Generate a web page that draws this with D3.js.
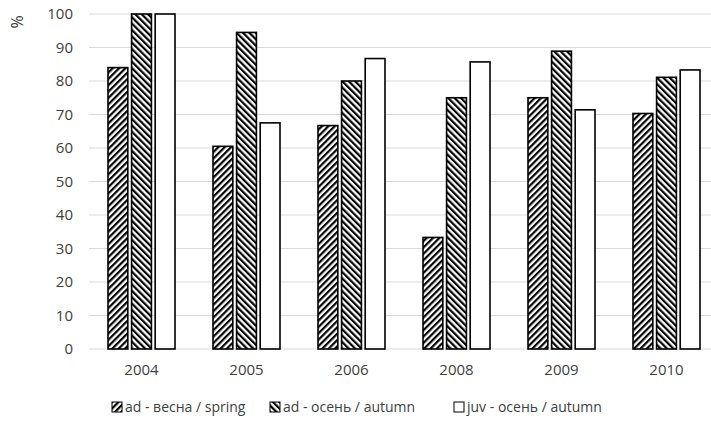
<!DOCTYPE html>
<html>
<head>
<meta charset="utf-8">
<script src="https://cdn.jsdelivr.net/npm/d3@7"></script>
<style>
  body { margin: 0; background: #fff; }
  svg { display: block; font-family: "Open Sans", "Noto Sans", sans-serif; }
</style>
</head>
<body>
<svg id="chart" width="711" height="427"></svg>
<script>
const years = ["2004", "2005", "2006", "2008", "2009", "2010"];
const adSpring = [84, 60.5, 66.7, 33.3, 75, 70.3];
const adAutumn = [100, 94.5, 80, 75, 88.9, 81.1];
const juvAutumn = [100, 67.5, 86.7, 85.7, 71.4, 83.3];
const seriesNames = ["ad - весна / spring", "ad - осень / autumn", "juv - осень / autumn"];
const yTicks = [0, 10, 20, 30, 40, 50, 60, 70, 80, 90, 100];

const svg = d3.select("#chart");
const margin = { top: 14, left: 89 };
const width = 630;
const height = 335;

// patterns for the hatched bars
const defs = svg.append("defs");
function hatch(id, angle) {
    const p = defs.append("pattern")
        .attr("id", id)
        .attr("patternUnits", "userSpaceOnUse")
        .attr("width", 4.5)
        .attr("height", 4.5)
        .attr("patternTransform", "rotate(" + angle + ")");
    p.append("rect").attr("width", 4.5).attr("height", 4.5).attr("fill", "#fff");
    p.append("rect").attr("width", 2.2).attr("height", 4.5).attr("fill", "#000");
}
hatch("up", 45);
hatch("down", -45);
const fills = ["url(#up)", "url(#down)", "#fff"];

const g = svg.append("g")
    .attr("transform", "translate(" + margin.left + "," + margin.top + ")");

const x = d3.scaleBand().domain(years).range([0, width]);
const x1 = d3.scaleBand().domain([0, 1, 2]).range([19, 105 - 19]).paddingInner(0.16);
const y = d3.scaleLinear().domain([0, 100]).range([height, 0]);

// grid
g.selectAll(".grid")
    .data(yTicks)
    .enter().append("line")
    .attr("x1", 0)
    .attr("x2", width)
    .attr("y1", d => y(d))
    .attr("y2", d => y(d))
    .attr("stroke", "#d9d9d9")
    .attr("stroke-width", 1);

// y labels
g.selectAll(".ylab")
    .data(yTicks)
    .enter().append("text")
    .attr("x", -16)
    .attr("y", d => y(d))
    .attr("dy", "0.35em")
    .attr("text-anchor", "end")
    .attr("fill", "#404040")
    .style("font-size", "15px")
    .text(d => d);

// x labels
g.selectAll(".xlab")
    .data(years)
    .enter().append("text")
    .attr("x", d => x(d) + x.bandwidth() / 2)
    .attr("y", height + 26)
    .attr("text-anchor", "middle")
    .attr("fill", "#404040")
    .style("font-size", "15px")
    .text(d => d);

const series = [adSpring, adAutumn, juvAutumn];
series.forEach(function(vals, si) {
    g.selectAll(".bar" + si)
        .data(vals)
        .enter().append("rect")
        .attr("x", (d, i) => x(years[i]) + x1(si))
        .attr("y", d => y(d))
        .attr("width", x1.bandwidth())
        .attr("height", d => height - y(d))
        .attr("fill", fills[si])
        .attr("stroke", "#000")
        .attr("stroke-width", 1.6);
});

// % label
svg.append("text")
    .attr("transform", "translate(23,22) rotate(-90)")
    .attr("text-anchor", "middle")
    .attr("fill", "#404040")
    .style("font-size", "16px")
    .text("%");

// legend
const legendX = [112, 270, 454];
const lg = svg.selectAll(".legend")
    .data(seriesNames)
    .enter().append("g")
    .attr("transform", (d, i) => "translate(" + legendX[i] + ",407)");
lg.append("rect")
    .attr("x", 0)
    .attr("y", -5)
    .attr("width", 10)
    .attr("height", 10)
    .attr("fill", (d, i) => fills[i])
    .attr("stroke", "#000")
    .attr("stroke-width", 1);
lg.append("text")
    .attr("x", 13)
    .attr("y", 0)
    .attr("dy", "0.35em")
    .attr("fill", "#404040")
    .style("font-size", "14px")
    .text(d => d);
</script>
</body>
</html>
